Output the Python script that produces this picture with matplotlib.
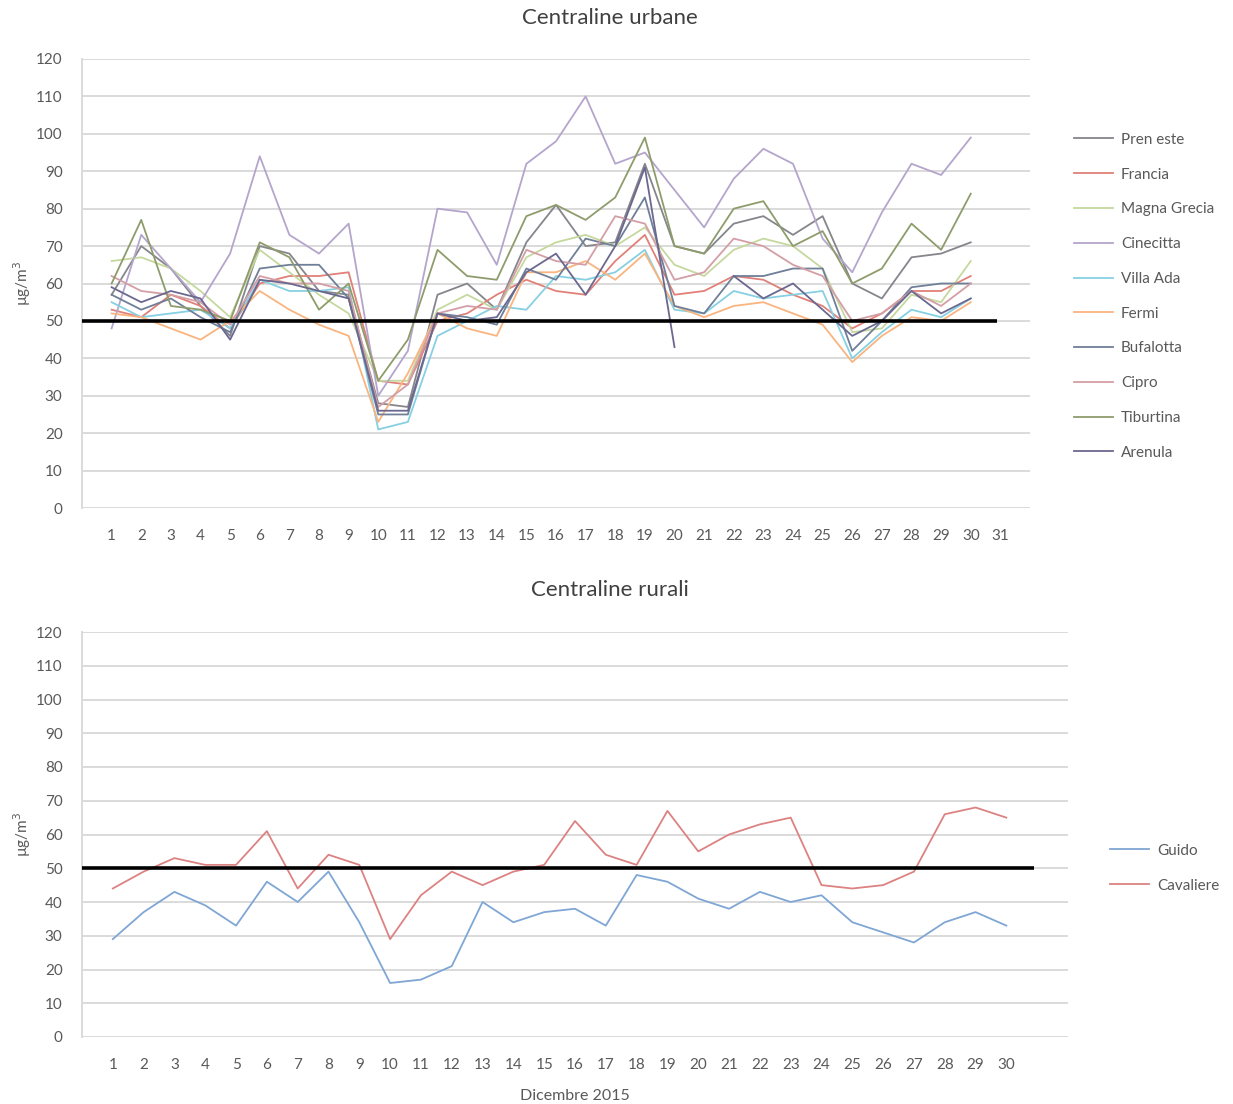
import numpy as np
import matplotlib
matplotlib.use('Agg')
import matplotlib.pyplot as plt

plt.rcParams['font.family'] = ['Lato', 'DejaVu Sans']

nan = np.nan

# ---- urban stations, December 2015 (days 1..30) ----
days_urb = np.arange(1, 31)
preneste = [57, 70, 64, 54, 46, 70, 68, 58, 57, 28, 27, 57, 60, 53, 71, 81, 70, 71, 92, 70,
            68, 76, 78, 73, 78, 60, 56, 67, 68, 71]
francia = [53, 51, 57, 54, 48, 60, 62, 62, 63, 34, 33, 50, 52, 57, 61, 58, 57, 66, 73, 57,
           58, 62, 61, 57, 54, 48, 52, 58, 58, 62]
magna_grecia = [66, 67, 64, 58, 51, 69, 63, 57, 52, 34, 34, 53, 57, 53, 67, 71, 73, 70, 75, 65,
                62, 69, 72, 70, 64, 47, 48, 57, 55, 66]
cinecitta = [48, 73, 64, 55, 68, 94, 73, 68, 76, 30, 42, 80, 79, 65, 92, 98, 110, 92, 95, 85,
             75, 88, 96, 92, 72, 63, 79, 92, 89, 99]
villa_ada = [55, 51, 52, 53, 48, 61, 58, 58, 59, 21, 23, 46, 50, 54, 53, 62, 61, 63, 69, 53,
             52, 58, 56, 57, 58, 40, 47, 53, 51, 56]
fermi = [52, 51, 48, 45, 50, 58, 53, 49, 46, 23, 36, 52, 48, 46, 63, 63, 66, 61, 68, 54,
         51, 54, 55, 52, 49, 39, 46, 51, 50, 55]
bufalotta = [57, 53, 56, 51, 47, 64, 65, 65, 56, 25, 25, 52, 51, 49, 64, 61, 72, 70, 83, 54,
             52, 62, 62, 64, 64, 42, 50, 59, 60, 60]
cipro = [62, 58, 57, 55, 49, 62, 60, 60, 58, 27, 33, 52, 54, 53, 69, 66, 65, 78, 76, 61,
         63, 72, 70, 65, 62, 50, 52, 58, 54, 60]
tiburtina = [60, 77, 54, 53, 50, 71, 67, 53, 60, 34, 45, 69, 62, 61, 78, 81, 77, 83, 99, 70,
             68, 80, 82, 70, 74, 60, 64, 76, 69, 84]
arenula = [59, 55, 58, 56, 45, 61, 60, 58, 56, 26, 26, 52, 50, 51, 63, 68, 57, 70, 91, 43,
           nan, 62, 56, 60, 53, 46, 50, 58, 52, 56]

urb_names = ['Pren este', 'Francia', 'Magna Grecia', 'Cinecitta', 'Villa Ada',
             'Fermi', 'Bufalotta', 'Cipro', 'Tiburtina', 'Arenula']
urb_series = [preneste, francia, magna_grecia, cinecitta, villa_ada,
              fermi, bufalotta, cipro, tiburtina, arenula]
urb_colors = ['#85858c', '#e08078', '#c5d89e', '#b4a5cc', '#86d0e2',
              '#f9b47f', '#6f7f98', '#d49ea6', '#8e9c6c', '#6b6890']

# ---- rural stations ----
days_rur = np.arange(1, 31)
guido = [29, 37, 43, 39, 33, 46, 40, 49, 34, 16, 17, 21, 40, 34, 37, 38, 33, 48, 46, 41,
         38, 43, 40, 42, 34, 31, 28, 34, 37, 33]
cavaliere = [44, 49, 53, 51, 51, 61, 44, 54, 51, 29, 42, 49, 45, 49, 51, 64, 54, 51, 67, 55,
             60, 63, 65, 45, 44, 45, 49, 66, 68, 65]
rur_names = ['Guido', 'Cavaliere']
rur_series = [guido, cavaliere]
rur_colors = ['#7fa6d4', '#dc8282']

limit = 50
tick_color = '#595959'
grid_color = '#dadada'

fig = plt.figure(figsize=(12.33, 11.04), dpi=100)
ax1 = fig.add_axes([82/1233, 1-508/1104, (1030-82)/1233, (508-59)/1104])
ax2 = fig.add_axes([82/1233, 1-1037/1104, (1068-82)/1233, (1037-632)/1104])


def style_axis(ax, ncat, xmax):
    ax.set_ylim(0, 120)
    ax.set_yticks(range(0, 121, 10))
    ax.set_xticks(range(1, ncat + 1))
    ax.set_xlim(0, xmax)
    ax.grid(axis='y', color=grid_color, lw=1.4)
    ax.set_axisbelow(True)
    for s in ['top', 'right', 'bottom']:
        ax.spines[s].set_visible(False)
    ax.spines['left'].set_color(grid_color)
    ax.spines['left'].set_linewidth(1.4)
    ax.tick_params(length=0, labelsize=11, colors=tick_color)
    ax.tick_params(axis='x', pad=15)
    ax.tick_params(axis='y', pad=14)
    ax.set_ylabel('µg/m$^3$', fontsize=11, color=tick_color)


# top
for vals, name, c in zip(urb_series, urb_names, urb_colors):
    ax1.plot(days_urb, vals, color=c, lw=1.3, label=name)
style_axis(ax1, 31, 32)
ax1.hlines(limit, 0, 30.9, color='black', lw=2.6, zorder=5)
ax1.yaxis.set_label_coords(-0.052, 0.5)
ax1.legend(loc='upper left', bbox_to_anchor=(1060/1233, 1-119/1104),
           bbox_transform=fig.transFigure, frameon=False, fontsize=11,
           labelspacing=1.36, handlelength=2.6, handletextpad=0.5,
           labelcolor=tick_color)
fig.text(610/1233, 1-18/1104, 'Centraline urbane', ha='center', va='center',
         fontsize=16, color='#404040')

# bottom
for vals, name, c in zip(rur_series, rur_names, rur_colors):
    ax2.plot(days_rur, vals, color=c, lw=1.3, label=name)
style_axis(ax2, 30, 32)
ax2.hlines(limit, 0, 30.9, color='black', lw=2.6, zorder=5)
ax2.yaxis.set_label_coords(-0.05, 0.5)
ax2.set_xlabel('Dicembre 2015', fontsize=11.5, color=tick_color, labelpad=12)
ax2.legend(loc='upper left', bbox_to_anchor=(1096/1233, 1-830/1104),
           bbox_transform=fig.transFigure, frameon=False, fontsize=11,
           labelspacing=1.36, handlelength=2.6, handletextpad=0.5,
           labelcolor=tick_color)
fig.text(610/1233, 1-590/1104, 'Centraline rurali', ha='center', va='center',
         fontsize=16, color='#404040')

fig.savefig('out.png', dpi=100, facecolor='white')
